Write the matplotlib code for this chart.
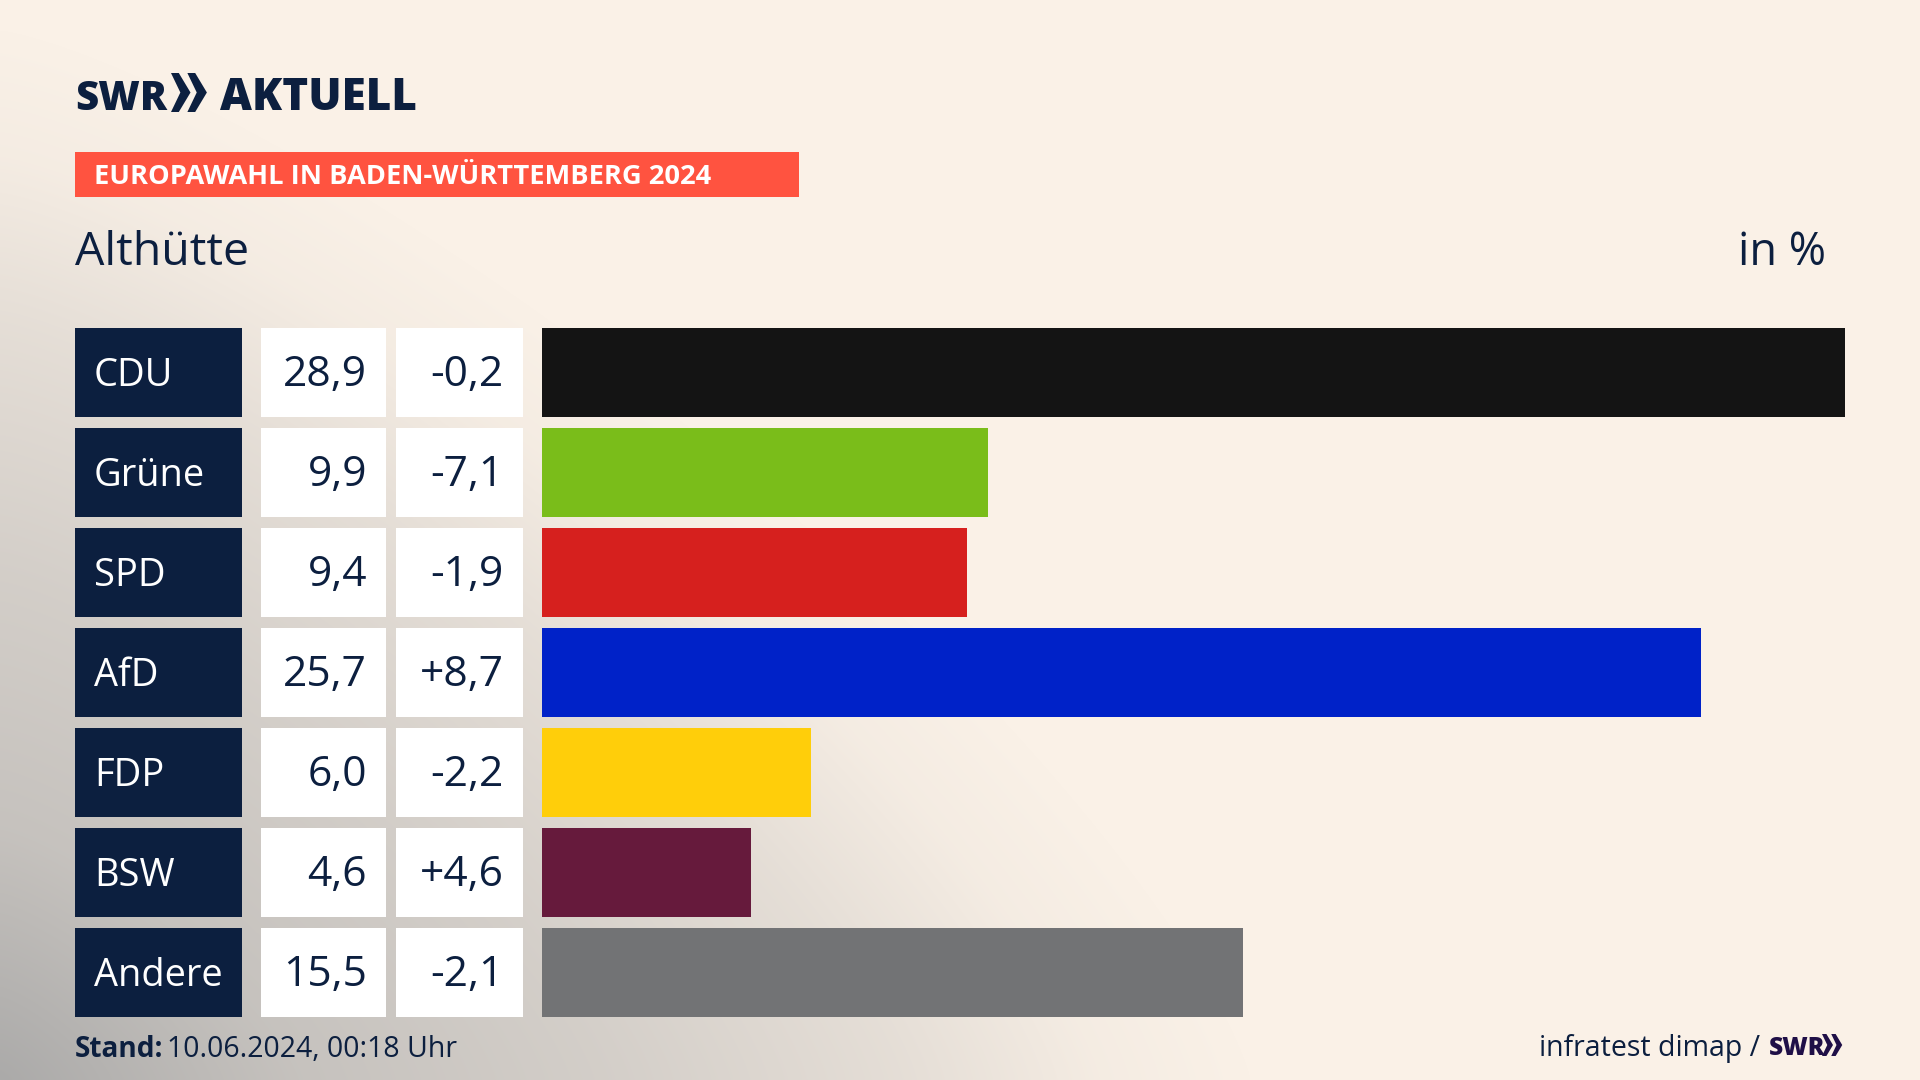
import numpy as np
import matplotlib
matplotlib.use("Agg")
import matplotlib.pyplot as plt
from matplotlib.patches import Rectangle, Polygon

parties = ["CDU", "Grüne", "SPD", "AfD", "FDP", "BSW", "Andere"]
share_labels = ["28,9", "9,9", "9,4", "25,7", "6,0", "4,6", "15,5"]
bar_lengths = [28.9, 9.9, 9.43, 25.7, 5.96, 4.64, 15.54]
changes = ["-0,2", "-7,1", "-1,9", "+8,7", "-2,2", "+4,6", "-2,1"]
colors = ["#141414", "#7ABD1A", "#D6201E", "#0022C8", "#FFCE0A", "#661A3C", "#727375"]
region = "Althütte"
headline = "EUROPAWAHL IN BADEN-WÜRTTEMBERG 2024"

NAVY = "#0C1F3F"
FONT = "Open Sans"
W, H = 1920, 1080
PX = 72 / 100

fig = plt.figure(figsize=(W / 100, H / 100), dpi=100)
ov = fig.add_axes([0, 0, 1, 1])
ov.set_xlim(0, W)
ov.set_ylim(H, 0)
ov.axis("off")

# background wash from the lower-left corner
yy, xx = np.mgrid[0:H, 0:W]
d = ((xx / 1250) ** 1.3 + ((H - yy) / 1050) ** 1.3) ** (1 / 1.3)
a = np.interp(d, [0, 0.24, 0.48, 0.72, 0.88, 1.0], [1, 0.66, 0.49, 0.27, 0.07, 0])
base = np.array([0xFA, 0xF1, 0xE7]) / 255
gray = np.array([0xAB, 0xAA, 0xA9]) / 255
bg = base[None, None, :] * (1 - a[..., None]) + gray[None, None, :] * a[..., None]
ov.imshow(bg, extent=(0, W, H, 0), aspect="auto", zorder=0)
ov.set_xlim(0, W)
ov.set_ylim(H, 0)


def txt(x, y, s, size, color=NAVY, weight="normal", ha="left"):
    return ov.text(x, y, s, fontsize=size * PX, color=color, fontweight=weight,
                   ha=ha, va="baseline", family=FONT, zorder=3)


def chevrons(x, top, h, color):
    step = h * 0.42
    mid = top + h / 2
    bot = top + h
    for k in range(2):
        x0 = x + k * step
        ov.add_patch(Polygon([(x0, top), (x0 + 0.2 * h, top), (x0 + 0.5 * h, mid),
                              (x0 + 0.2 * h, bot), (x0, bot), (x0 + 0.24 * h, mid)],
                             closed=True, fc=color, ec="none", zorder=3))


# logo
txt(75, 110, "SWR", 40, weight=800)
chevrons(171, 73, 39, NAVY)
txt(220, 110, "AKTUELL", 44, weight=800)

# headline band
ov.add_patch(Rectangle((75, 152), 724, 45, fc="#FF5340", ec="none", zorder=1))
txt(94, 184, headline, 27.3, color="white", weight="bold")

txt(75, 265, region, 46.5)
txt(1826, 265, "in %", 45, ha="right")

# table cells
top0, step, rh = 328, 100, 88.5
for i, (p, s, c) in enumerate(zip(parties, share_labels, changes)):
    t = top0 + i * step
    base_y = t + rh / 2 + 14
    ov.add_patch(Rectangle((75, t), 167, rh, fc=NAVY, ec="none", zorder=1))
    ov.add_patch(Rectangle((261, t), 125, rh, fc="white", ec="none", zorder=1))
    ov.add_patch(Rectangle((396, t), 127, rh, fc="white", ec="none", zorder=1))
    txt(94, base_y, p, 38, color="white")
    txt(367, base_y, s, 42.5, ha="right")
    txt(504, base_y, c, 42.5, ha="right")

# footer
txt(75, 1057, "Stand:", 28, weight="bold")
txt(167, 1057, "10.06.2024, 00:18 Uhr", 28.5)
txt(1760, 1056, "infratest dimap /", 28.5, ha="right")
txt(1769, 1055, "SWR", 24.5, color="#1F0F47", weight=800)
chevrons(1822, 1034, 22, "#1F0F47")

# bars
ax = fig.add_axes([542 / W, 1 - 1022.25 / H, (1845 - 542) / W, 700 / H])
ax.patch.set_alpha(0)
ax.barh(range(len(parties)), bar_lengths, height=0.885, color=colors, linewidth=0)
ax.set_xlim(0, max(bar_lengths))
ax.set_ylim(len(parties) - 0.5, -0.5)
ax.axis("off")

fig.savefig("out.png", dpi=100)
